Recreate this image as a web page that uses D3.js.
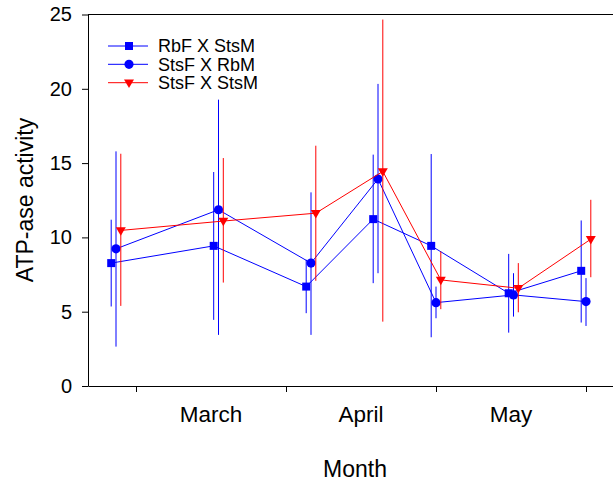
<!DOCTYPE html>
<html>
<head>
<meta charset="utf-8">
<script src="https://cdn.jsdelivr.net/npm/d3@7"></script>
<style>
  html, body { margin: 0; padding: 0; background: #fff; }
  svg { display: block; font-family: "Liberation Sans", Arial, sans-serif; }
</style>
</head>
<body>
<svg id="chart" width="613" height="483"></svg>
<script>
// ---- data ----
const sampleDays = [-4, 16.5, 35, 48.4, 60, 75.5, 90];   // days from 1 March
const monthTicks = [0, 30, 60, 90];
const monthLabels = ["March", "April", "May"];
const monthCenters = [15, 45, 75];
const yTicks = [0, 5, 10, 15, 20, 25];

const seriesNames = ["RbF X StsM", "StsF X RbM", "StsF X StsM"];
const rbfStsmMean = [8.27, 9.43, 6.69, 11.23, 9.43, 6.24, 7.75];
const rbfStsmHigh = [11.19, 14.4, 8.5, 15.57, 15.61, 8.89, 11.14];
const rbfStsmLow  = [5.35, 4.45, 4.9, 6.92, 3.28, 3.59, 4.27];

const stsfRbmMean = [9.23, 11.86, 8.27, 13.93, 5.61, 6.13, 5.68];
const stsfRbmHigh = [15.79, 19.27, 13.03, 20.33, 6.69, 7.59, 7.26];
const stsfRbmLow  = [2.65, 3.44, 3.44, 7.59, 4.56, 4.67, 4.04];

const stsfStsmMean = [10.47, 11.1, 11.63, 14.44, 7.14, 6.58, 9.88];
const stsfStsmHigh = [15.63, 15.34, 16.17, 24.66, 9.05, 8.27, 12.53];
const stsfStsmLow  = [5.39, 6.96, 7.08, 4.33, 5.17, 4.96, 7.32];

// ---- layout / style ----
const plotLeft = 88, plotRight = 622, plotTop = 14.5, plotBottom = 386;
const styles = [
  { color: "#0000ff", symbol: d3.symbolSquare, size: 64, dodge: -4.8 },
  { color: "#0000ff", symbol: d3.symbolCircle, size: 66, dodge: 0 },
  { color: "#ff0000", symbol: "tri", size: 0, dodge: 4.8 }
];
const series = [
  { mean: rbfStsmMean, hi: rbfStsmHigh, lo: rbfStsmLow },
  { mean: stsfRbmMean, hi: stsfRbmHigh, lo: stsfRbmLow },
  { mean: stsfStsmMean, hi: stsfStsmHigh, lo: stsfStsmLow }
];

const svg = d3.select("#chart");
const x = d3.scaleLinear().domain([-9.6, 97.2]).range([plotLeft, plotRight]);
const y = d3.scaleLinear().domain([0, 25]).range([plotBottom, plotTop]);

function marker(g, st, cx, cy) {
  if (st.symbol === "tri") {
    const w = 5, h1 = 3.2, h2 = 5.3;
    g.append("path")
      .attr("d", `M${cx - w},${cy - h1}L${cx + w},${cy - h1}L${cx},${cy + h2}Z`)
      .attr("fill", st.color);
  } else {
    g.append("path")
      .attr("d", d3.symbol().type(st.symbol).size(st.size)())
      .attr("transform", `translate(${cx},${cy})`)
      .attr("fill", st.color);
  }
}

// top frame line
svg.append("line")
  .attr("x1", plotLeft).attr("x2", plotRight)
  .attr("y1", plotTop).attr("y2", plotTop)
  .attr("stroke", "#000").attr("stroke-width", 1);

// y axis
const yAxis = svg.append("g")
  .attr("transform", `translate(${plotLeft},0)`)
  .call(d3.axisLeft(y).tickValues(yTicks).tickSize(6).tickSizeOuter(0).tickPadding(10));
yAxis.selectAll("text").attr("font-size", 20).attr("fill", "#000")
  .attr("font-family", "Liberation Sans, Arial, sans-serif");
yAxis.selectAll("line, path").attr("stroke", "#000");

// x axis
const xAxis = svg.append("g")
  .attr("transform", `translate(0,${plotBottom})`)
  .call(d3.axisBottom(x).tickValues(monthTicks).tickFormat("").tickSize(6).tickSizeOuter(0));
xAxis.selectAll("line, path").attr("stroke", "#000");

// month labels
svg.selectAll("text.month").data(monthLabels).enter().append("text")
  .attr("class", "month")
  .attr("x", (d, i) => x(monthCenters[i]))
  .attr("y", 421.7)
  .attr("text-anchor", "middle")
  .attr("font-size", 22.5)
  .text(d => d);

// axis titles
svg.append("text")
  .attr("x", 355).attr("y", 476.7)
  .attr("text-anchor", "middle")
  .attr("font-size", 23)
  .text("Month");
svg.append("text")
  .attr("transform", "translate(33,200) rotate(-90)")
  .attr("text-anchor", "middle")
  .attr("font-size", 23)
  .text("ATP-ase activity");

// series
series.forEach((s, k) => {
  const st = styles[k];
  const g = svg.append("g");
  const px = i => x(sampleDays[i]) + st.dodge;
  s.mean.forEach((m, i) => {
    g.append("line")
      .attr("x1", px(i)).attr("x2", px(i))
      .attr("y1", y(s.hi[i])).attr("y2", y(s.lo[i]))
      .attr("stroke", st.color).attr("stroke-width", 1);
  });
  g.append("path")
    .datum(s.mean)
    .attr("d", d3.line().x((d, i) => px(i)).y(d => y(d)))
    .attr("fill", "none").attr("stroke", st.color).attr("stroke-width", 1);
  s.mean.forEach((m, i) => marker(g, st, px(i), y(m)));
});

// legend
const legendRows = [46, 64.3, 82.7];
seriesNames.forEach((name, k) => {
  const st = styles[k];
  const g = svg.append("g");
  g.append("line")
    .attr("x1", 108).attr("x2", 148)
    .attr("y1", legendRows[k]).attr("y2", legendRows[k])
    .attr("stroke", st.color).attr("stroke-width", 1);
  marker(g, st, 129, legendRows[k]);
  g.append("text")
    .attr("x", 158).attr("y", legendRows[k])
    .attr("dy", "0.36em")
    .attr("font-size", 18)
    .text(name);
});
</script>
</body>
</html>
